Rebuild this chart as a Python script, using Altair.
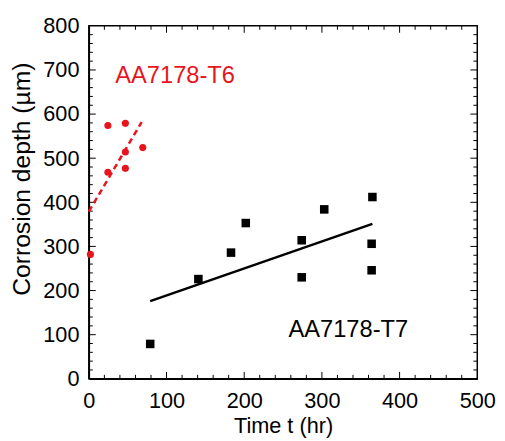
import altair as alt
import pandas as pd

# ---- data ----
t6_time = [2, 24.5, 47, 24.5, 47, 47, 69.4]
t6_depth = [282, 574, 579, 468, 514, 477, 524]
t6_fit_time = [0, 68]
t6_fit_depth = [379, 582]

t7_time = [79, 141, 183, 202, 274, 274, 303, 365, 364, 364]
t7_depth = [79, 226, 286, 353, 314, 230, 384, 412, 306, 246]
t7_fit_time = [79, 365]
t7_fit_depth = [176, 351]

label_text = ["AA7178-T6", "AA7178-T7"]
label_time = [34, 334]
label_depth = [686, 110]

x_ticks = [0, 100, 200, 300, 400, 500]
y_ticks = [0, 100, 200, 300, 400, 500, 600, 700, 800]
x_minor = [v for v in range(20, 500, 20) if v % 100 != 0]
y_minor = [v for v in range(20, 800, 20) if v % 100 != 0]
x_major_inner = [100, 200, 300, 400]
y_major_inner = [100, 200, 300, 400, 500, 600, 700]

FONT = "Liberation Sans"
RED = "#e8141c"
W, H = 394, 358
MAJ, MIN = 7, 4

x_scale = alt.Scale(domain=[0, 500], nice=False, zero=False)
y_scale = alt.Scale(domain=[0, 800], nice=False, zero=False)

x_axis = alt.Axis(values=x_ticks, ticks=False, tickSize=0, labelPadding=12,
                  labelFontSize=22, labelFont=FONT, labelColor="black",
                  labelFlush=False, title="Time t (hr)", titleFontSize=22,
                  titleFont=FONT, titleFontWeight="normal", titleColor="black",
                  titleY=37, titleBaseline="top",
                  domainColor="black", domainWidth=1.5, grid=False)
y_axis = alt.Axis(values=y_ticks, ticks=False, tickSize=0, labelPadding=10,
                  labelFontSize=22, labelFont=FONT, labelColor="black",
                  labelFlush=False, title="Corrosion depth (µm)", titleFontSize=25,
                  titleFont=FONT, titleFontWeight="normal", titleColor="black",
                  titlePadding=8, titleY=155, domainColor="black", domainWidth=1.5,
                  grid=False)

X = alt.X("t:Q", scale=x_scale, axis=x_axis)
Y = alt.Y("d:Q", scale=y_scale, axis=y_axis)

t6 = pd.DataFrame({"t": t6_time, "d": t6_depth})
t7 = pd.DataFrame({"t": t7_time, "d": t7_depth})
t6fit = pd.DataFrame({"t": t6_fit_time, "d": t6_fit_depth})
t7fit = pd.DataFrame({"t": t7_fit_time, "d": t7_fit_depth})
labels = pd.DataFrame({"t": label_time, "d": label_depth, "label": label_text})

layers = []

# tick marks drawn inward on all four sides
def xticks(vals, length):
    df = pd.DataFrame({"t": vals})
    bot = alt.Chart(df).mark_rule(color="black", strokeWidth=1).encode(
        x=X, y=alt.value(H), y2=alt.value(H - length))
    top = alt.Chart(df).mark_rule(color="black", strokeWidth=1).encode(
        x=X, y=alt.value(0), y2=alt.value(length))
    return [bot, top]

def yticks(vals, length):
    df = pd.DataFrame({"d": vals})
    left = alt.Chart(df).mark_rule(color="black", strokeWidth=1).encode(
        y=Y, x=alt.value(0), x2=alt.value(length))
    right = alt.Chart(df).mark_rule(color="black", strokeWidth=1).encode(
        y=Y, x=alt.value(W), x2=alt.value(W - length))
    return [left, right]

layers += xticks(x_major_inner, MAJ) + xticks(x_minor, MIN)
layers += yticks(y_major_inner, MAJ) + yticks(y_minor, MIN)

layers.append(alt.Chart(t7fit).mark_line(color="black", strokeWidth=2.5).encode(x=X, y=Y))
layers.append(alt.Chart(t6fit).mark_line(color=RED, strokeWidth=2.5,
                                          strokeDash=[6, 4]).encode(x=X, y=Y))
layers.append(alt.Chart(t7).mark_square(color="black", size=75, opacity=1).encode(x=X, y=Y))
layers.append(alt.Chart(t6).mark_circle(color=RED, size=52, opacity=1).encode(x=X, y=Y))

layers.append(alt.Chart(labels.iloc[[0]]).mark_text(
    align="left", baseline="middle", fontSize=24, font=FONT, color=RED
).encode(x=X, y=Y, text="label:N"))
layers.append(alt.Chart(labels.iloc[[1]]).mark_text(
    align="center", baseline="middle", fontSize=24, font=FONT, color="black"
).encode(x=X, y=Y, text="label:N"))

chart = alt.layer(*layers).properties(
    width=W, height=H,
    autosize=alt.AutoSizeParams(type="none"),
    padding={"left": 82, "top": 15, "right": 20, "bottom": 60},
    background="white",
).configure_view(stroke="black", strokeWidth=1.5)

chart.save("out.html", embed_options={"renderer": "svg", "actions": False})
